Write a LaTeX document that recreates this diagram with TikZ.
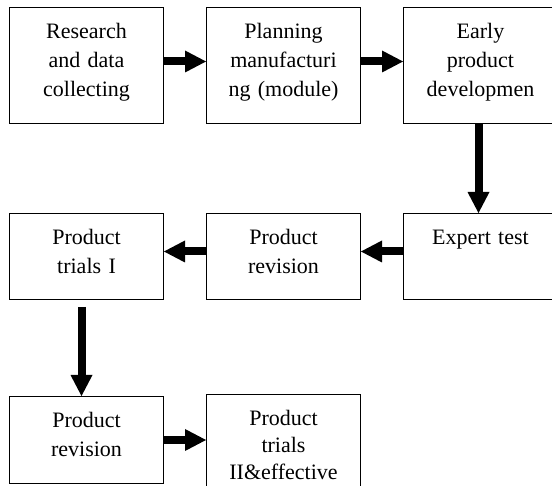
\documentclass[tikz,border=0pt]{standalone}
\usepackage{fontspec}
\setmainfont{Liberation Serif}
\usetikzlibrary{positioning,arrows.meta}

\begin{document}
\begin{tikzpicture}[
    stage/.style={draw, line width=1pt, rectangle, text width=138pt, inner xsep=8pt, inner ysep=0pt,
        align=center, text height=31pt, font=\fontsize{22}{29}\selectfont},
    tall/.style={text depth=85pt},
    short/.style={text depth=55pt},
    flow/.style={line width=8pt, -{Triangle[length=21pt, width=22pt, line width=0pt]}}]

    \useasboundingbox (0,0) rectangle (552pt,-486pt);

    \node[stage, tall, anchor=north west] (research) at (9pt,-7pt) {Research\\and data\\collecting};
    \node[stage, tall, right=42pt of research] (planning) {Planning\\manufacturi\\ng (module)};
    \node[stage, tall, right=42pt of planning] (early) {Early\\product\\developmen};
    \node[stage, short, below=89pt of early] (expert) {Expert test};
    \node[stage, short, left=42pt of expert] (revA) {Product\\revision};
    \node[stage, short, left=42pt of revA] (trialsA) {Product\\trials I};
    \node[stage, short, text depth=56pt, below=96pt of trialsA] (revB) {Product\\revision};
    \node[stage, tall, anchor=north west, font=\fontsize{22}{27}\selectfont] (trialsB)
        at ([xshift=42pt, yshift=1.5pt]revB.north east) {Product\\trials\\II\&effective};

    \draw[flow] ([yshift=4pt]research.east) -- ([yshift=4pt]planning.west);
    \draw[flow] ([yshift=4pt]planning.east) -- ([yshift=4pt]early.west);
    \draw[flow] ([xshift=-2pt]early.south) -- ([xshift=-2pt]expert.north);
    \draw[flow] ([yshift=5pt]expert.west) -- ([yshift=5pt]revA.east);
    \draw[flow] ([yshift=5pt]revA.west) -- ([yshift=5pt]trialsA.east);
    \draw[flow] ([xshift=-5pt, yshift=-7pt]trialsA.south) -- ([xshift=-5pt]revB.north);
    \draw[flow] (revB.east) -- (revB.east -| trialsB.west);

\end{tikzpicture}
\end{document}
